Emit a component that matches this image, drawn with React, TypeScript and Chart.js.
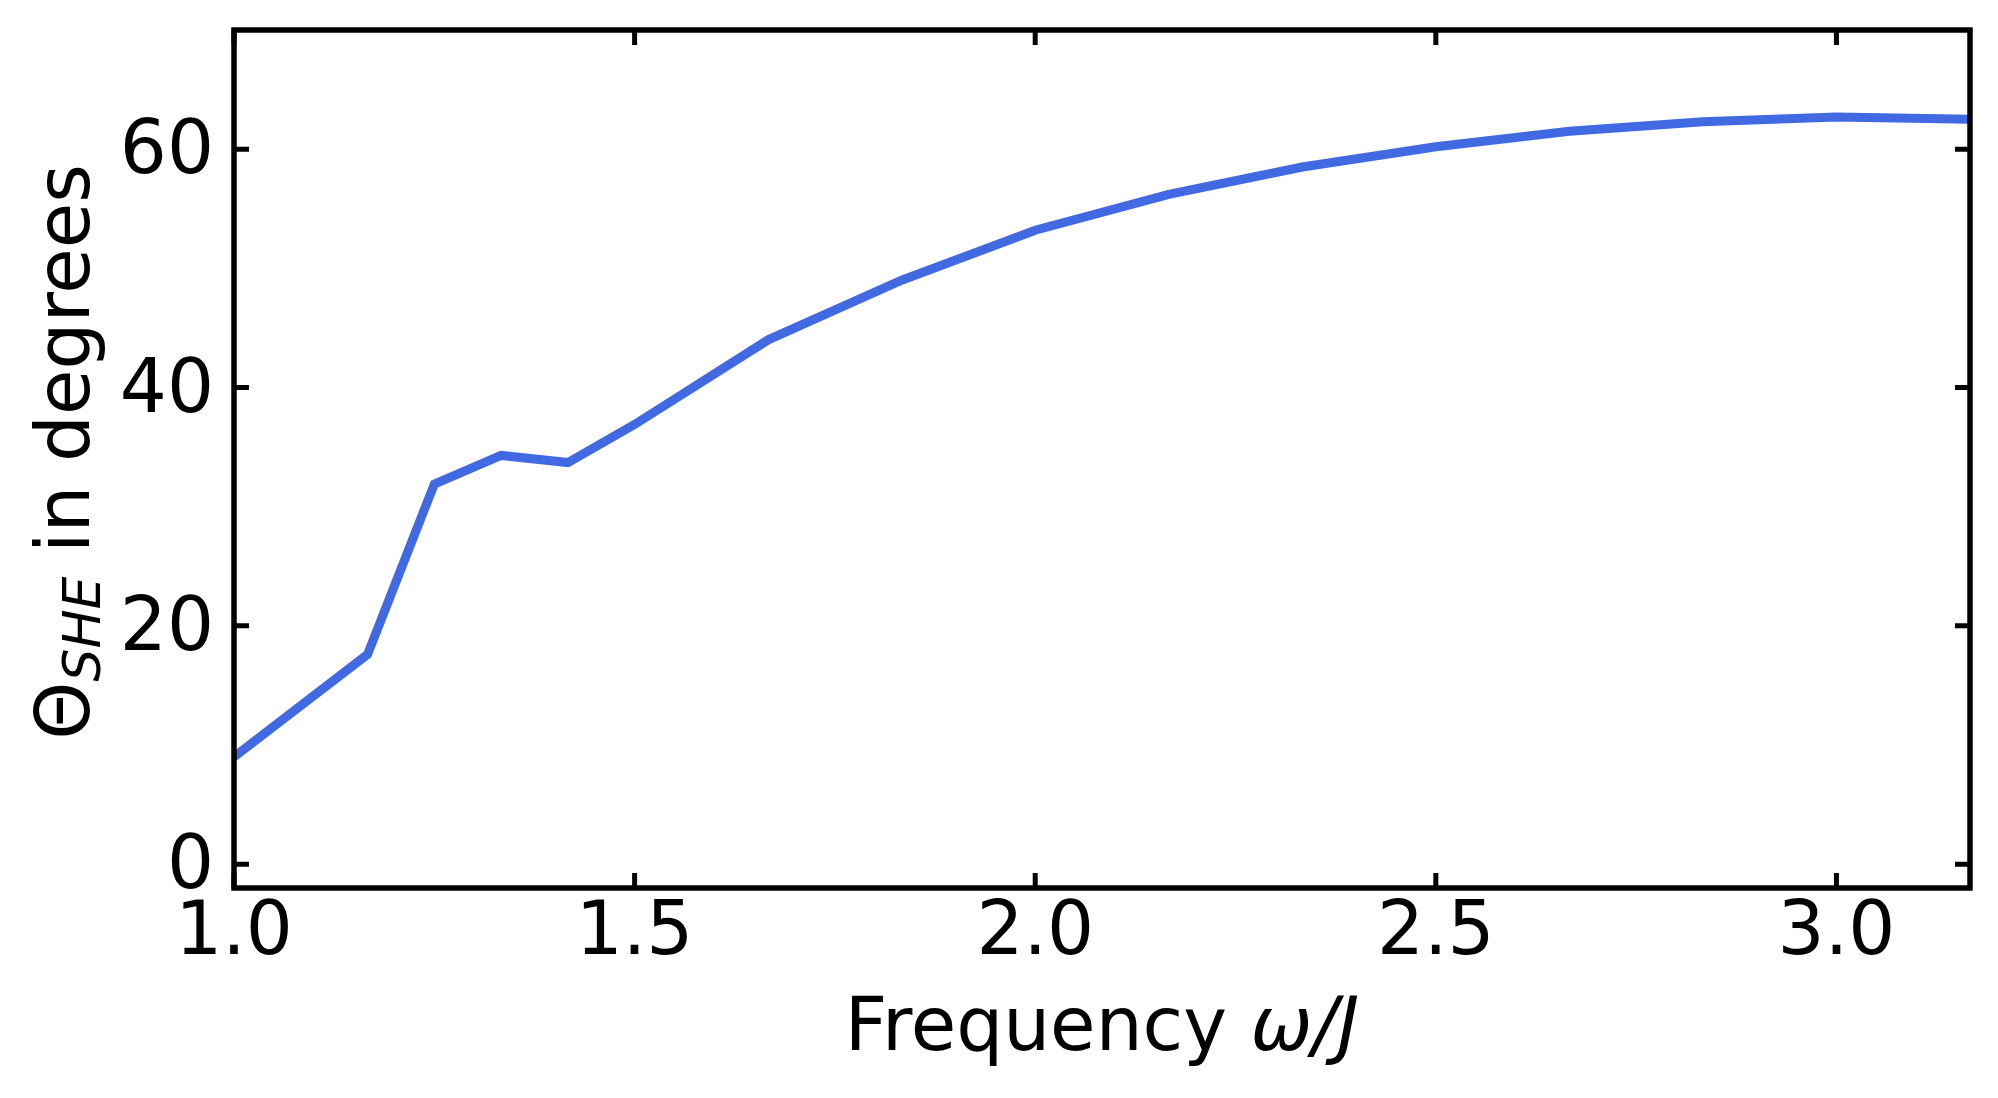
import { useEffect, useRef } from 'react'
import { Chart, ChartConfiguration, registerables } from 'chart.js'

Chart.register(...registerables)

// Spin Hall angle vs driving frequency
const frequency = [1.0, 1.1667, 1.25, 1.3333, 1.4167, 1.5, 1.6667, 1.8333, 2.0, 2.1667, 2.3333, 2.5, 2.6667, 2.8333, 3.0, 3.1667]
const thetaSHE = [9.0, 17.6, 31.9, 34.3, 33.7, 36.9, 44.0, 49.0, 53.2, 56.2, 58.5, 60.2, 61.5, 62.3, 62.7, 62.5]

const xTicks = [1.0, 1.5, 2.0, 2.5, 3.0]
const yTicks = [0, 20, 40, 60]

const FONT = "'DejaVu Sans', 'Liberation Sans', sans-serif"
const FONT_SIZE = 74

// border box plus inward ticks on all four sides
const frameTicks = {
  id: 'frameTicks',
  afterDraw(chart: any) {
    const { ctx, chartArea, scales } = chart
    const { left, right, top, bottom } = chartArea
    const len = 15
    ctx.save()
    ctx.strokeStyle = '#000'
    ctx.lineWidth = 5
    ctx.beginPath()
    scales.x.ticks.forEach((t: any) => {
      const px = scales.x.getPixelForValue(t.value)
      ctx.moveTo(px, bottom)
      ctx.lineTo(px, bottom - len)
      ctx.moveTo(px, top)
      ctx.lineTo(px, top + len)
    })
    scales.y.ticks.forEach((t: any) => {
      const py = scales.y.getPixelForValue(t.value)
      ctx.moveTo(left, py)
      ctx.lineTo(left + len, py)
      ctx.moveTo(right, py)
      ctx.lineTo(right - len, py)
    })
    ctx.stroke()
    ctx.lineWidth = 5.5
    ctx.strokeRect(left, top, right - left, bottom - top)
    ctx.restore()
  },
}

// axis titles with mathtext-like pieces (subscript / italic)
const axisTitles = {
  id: 'axisTitles',
  afterDraw(chart: any) {
    const { ctx, chartArea } = chart
    ctx.save()
    ctx.fillStyle = '#000'
    ctx.textBaseline = 'alphabetic'
    ctx.textAlign = 'left'

    // x title
    const regular = `${FONT_SIZE}px ${FONT}`
    const italic = `italic ${FONT_SIZE}px ${FONT}`
    const xParts = [
      { text: 'Frequency ', font: regular },
      { text: 'ω/J', font: italic },
    ]
    let total = 0
    xParts.forEach(p => {
      ctx.font = p.font
      total += ctx.measureText(p.text).width
    })
    let x = (chartArea.left + chartArea.right) / 2 - total / 2
    xParts.forEach(p => {
      ctx.font = p.font
      ctx.fillText(p.text, x, 1050)
      x += ctx.measureText(p.text).width
    })

    // y title, rotated
    const subSize = Math.round(FONT_SIZE * 0.7)
    const yParts = [
      { text: 'Θ', font: regular, shift: 0 },
      { text: 'SHE', font: `italic ${subSize}px ${FONT}`, shift: 11 },
      { text: ' in degrees', font: regular, shift: 0 },
    ]
    total = 0
    yParts.forEach(p => {
      ctx.font = p.font
      total += ctx.measureText(p.text).width
    })
    ctx.translate(89, 452)
    ctx.rotate(-Math.PI / 2)
    let s = -total / 2
    yParts.forEach(p => {
      ctx.font = p.font
      ctx.fillText(p.text, s, p.shift)
      s += ctx.measureText(p.text).width
    })
    ctx.restore()
  },
}

function SpinHallChart() {
  const canvasRef = useRef<HTMLCanvasElement>(null)
  const chartRef = useRef<Chart | null>(null)

  useEffect(() => {
    if (!canvasRef.current) return

    if (chartRef.current) {
      chartRef.current.destroy()
    }

    const ctx = canvasRef.current.getContext('2d')
    if (!ctx) return

    const config: ChartConfiguration = {
      type: 'line',
      data: {
        datasets: [{
          label: 'Theta SHE',
          data: frequency.map((f, i) => ({ x: f, y: thetaSHE[i] })),
          borderColor: '#4169E1',
          backgroundColor: '#4169E1',
          borderWidth: 9,
          pointRadius: 0,
          tension: 0,
          fill: false,
        }],
      },
      options: {
        responsive: true,
        maintainAspectRatio: false,
        animation: false,
        layout: {
          padding: { top: 30, right: 28, bottom: 0, left: 0 },
        },
        plugins: {
          legend: { display: false },
          tooltip: { enabled: false },
        },
        scales: {
          x: {
            type: 'linear',
            min: 1.0,
            max: 3.1667,
            afterBuildTicks: (scale: any) => {
              scale.ticks = xTicks.map(v => ({ value: v }))
            },
            afterFit: (scale: any) => {
              scale.height = 1098 - 888
              scale.paddingLeft = 0
              scale.paddingRight = 0
              scale.paddingTop = 0
              scale.paddingBottom = 0
            },
            grid: { display: false, drawTicks: false },
            border: { display: false },
            ticks: {
              autoSkip: false,
              maxRotation: 0,
              padding: 2,
              color: '#000',
              font: { family: FONT, size: FONT_SIZE },
              callback: (v: any) => Number(v).toFixed(1),
            },
          },
          y: {
            type: 'linear',
            min: -2,
            max: 70,
            afterBuildTicks: (scale: any) => {
              scale.ticks = yTicks.map(v => ({ value: v }))
            },
            afterFit: (scale: any) => {
              scale.width = 234
              scale.paddingLeft = 0
              scale.paddingRight = 0
              scale.paddingTop = 0
              scale.paddingBottom = 0
            },
            grid: { display: false, drawTicks: false },
            border: { display: false },
            ticks: {
              autoSkip: false,
              padding: 20,
              labelOffset: 5,
              color: '#000',
              font: { family: FONT, size: FONT_SIZE },
              callback: (v: any) => String(v),
            },
          },
        },
      },
      plugins: [frameTicks, axisTitles],
    }

    chartRef.current = new Chart(ctx, config)

    return () => {
      if (chartRef.current) {
        chartRef.current.destroy()
        chartRef.current = null
      }
    }
  }, [])

  return (
    <div style={{ position: 'fixed', left: 0, top: 0, width: 1998, height: 1098, background: '#fff' }}>
      <canvas ref={canvasRef} />
    </div>
  )
}

export default function App() {
  return <SpinHallChart />
}
